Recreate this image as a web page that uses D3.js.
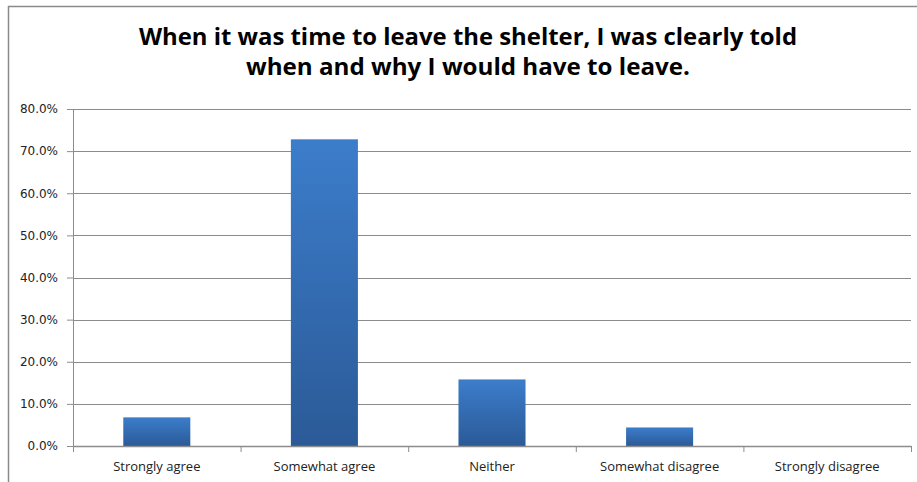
<!DOCTYPE html>
<html>
<head>
<meta charset="utf-8">
<script src="https://cdn.jsdelivr.net/npm/d3@7/dist/d3.min.js"></script>
<style>
    body { margin: 0; background: #fff; }
    svg { display: block; }
</style>
</head>
<body>
<div id="chart"></div>
<script>
'use strict';

// chart data
const titleLines = ['When it was time to leave the shelter, I was clearly told', 'when and why I would have to leave.'];
const categories = ['Strongly agree', 'Somewhat agree', 'Neither', 'Somewhat disagree', 'Strongly disagree'];
const percents = [0.068, 0.728, 0.158, 0.044, 0];
const yTicks = [0, 0.1, 0.2, 0.3, 0.4, 0.5, 0.6, 0.7, 0.8];

const WIDTH = 917, HEIGHT = 482;
const margin = {top: 109, right: 6, bottom: 36, left: 73};
const width = WIDTH - margin.left - margin.right,
    height = HEIGHT - margin.top - margin.bottom;

let svg = d3.select('#chart').append('svg')
    .attr('width', WIDTH)
    .attr('height', HEIGHT);

// gradient for the bars
let grad = svg.append('defs').append('linearGradient')
    .attr('id', 'barGrad')
    .attr('x1', 0).attr('y1', 0).attr('x2', 0).attr('y2', 1);
grad.append('stop').attr('offset', '0%').attr('stop-color', '#3c7dcb');
grad.append('stop').attr('offset', '100%').attr('stop-color', '#2b5a97');

// outer frame (top and left only visible)
svg.append('path')
    .attr('d', 'M8.5,' + HEIGHT + 'V6.5H' + WIDTH)
    .attr('fill', 'none')
    .attr('stroke', '#8a8a8a')
    .attr('stroke-width', 1.5);

// title
svg.append('text')
    .attr('text-anchor', 'middle')
    .attr('font-family', 'Open Sans, sans-serif')
    .attr('font-weight', 'bold')
    .attr('font-size', 23)
    .attr('fill', '#000')
    .selectAll('tspan')
    .data(titleLines)
    .join('tspan')
    .attr('x', 468)
    .attr('y', (d, i) => 45 + i * 30)
    .attr('textLength', (d, i) => i === 0 ? 658 : 444)
    .attr('lengthAdjust', 'spacingAndGlyphs')
    .text(d => d);

let g = svg.append('g')
    .attr('transform', 'translate(' + margin.left + ',' + margin.top + ')');

let x = d3.scaleBand().domain(categories).range([0, width]).padding(0);
let y = d3.scaleLinear().domain([0, 0.8]).range([height, 0]);

// gridlines
g.append('g')
    .selectAll('line')
    .data(yTicks.slice(1))
    .join('line')
    .attr('x1', 0).attr('x2', width)
    .attr('y1', d => Math.round(y(d)) + 0.5)
    .attr('y2', d => Math.round(y(d)) + 0.5)
    .attr('stroke', '#8c8c8c')
    .attr('stroke-width', 1);

// Y axis
let yAxis = g.append('g')
    .call(d3.axisLeft(y).tickValues(yTicks).tickFormat(d3.format('.1%')).tickSize(6).tickSizeOuter(0));
yAxis.select('.domain').attr('stroke', '#8c8c8c');
yAxis.selectAll('.tick line').attr('stroke', '#8c8c8c');
yAxis.selectAll('text')
    .attr('x', -15)
    .attr('font-family', 'DejaVu Sans, Verdana, sans-serif')
    .attr('font-size', 12)
    .attr('fill', '#222');

// bars
let barW = x.bandwidth() * 0.4;
g.append('g')
    .selectAll('rect')
    .data(percents)
    .join('rect')
    .attr('x', (d, i) => x(categories[i]) + (x.bandwidth() - barW) / 2)
    .attr('y', d => y(d))
    .attr('width', barW)
    .attr('height', d => height - y(d))
    .attr('fill', 'url(#barGrad)');

// X axis
let xAxis = g.append('g')
    .attr('transform', 'translate(0,' + height + ')')
    .call(d3.axisBottom(x).tickSize(0).tickSizeOuter(0));
xAxis.select('.domain').attr('stroke', '#8c8c8c').attr('stroke-width', 1.5);
xAxis.selectAll('text')
    .attr('y', 16)
    .attr('dy', '0.71em')
    .attr('font-family', 'Open Sans, sans-serif')
    .attr('font-size', 13)
    .attr('fill', '#222');

// category separator ticks
xAxis.append('g')
    .selectAll('line')
    .data(d3.range(categories.length + 1))
    .join('line')
    .attr('x1', i => i * x.step() + 0.5)
    .attr('x2', i => i * x.step() + 0.5)
    .attr('y1', 0).attr('y2', 6)
    .attr('stroke', '#8c8c8c');
</script>
</body>
</html>
